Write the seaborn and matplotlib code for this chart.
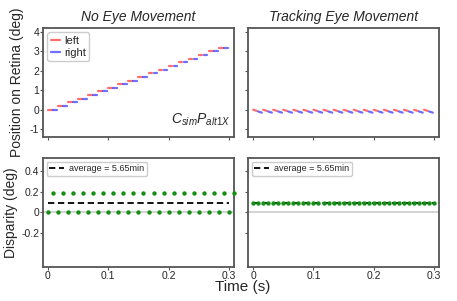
import numpy as np
import pandas as pd
import matplotlib
matplotlib.use("Agg")
import matplotlib.pyplot as plt
import seaborn as sns

# frame start times (s) for left / right eye flashes
left_t = [0.0, 0.0167, 0.0333, 0.05, 0.0667, 0.0833, 0.1, 0.1167, 0.1333,
          0.15, 0.1667, 0.1833, 0.2, 0.2167, 0.2333, 0.25, 0.2667, 0.2833]
right_t = [0.0083, 0.025, 0.0417, 0.0583, 0.075, 0.0917, 0.1083, 0.125, 0.1417,
           0.1583, 0.175, 0.1917, 0.2083, 0.225, 0.2417, 0.2583, 0.275, 0.2917]
flash_dur = 0.006

# retinal position, no eye movement (deg)
still_pos = [0.0, 0.19, 0.38, 0.56, 0.75, 0.94, 1.12, 1.31, 1.5,
             1.69, 1.88, 2.06, 2.25, 2.44, 2.62, 2.81, 3.0, 3.19]
# retinal position, tracking: start / end of each flash (deg)
track_left = (0.0, -0.06)
track_right = (-0.09, -0.15)

# disparity samples
disp_t0 = [0.0, 0.0167, 0.0333, 0.05, 0.0667, 0.0833, 0.1, 0.1167, 0.1333, 0.15,
           0.1667, 0.1833, 0.2, 0.2167, 0.2333, 0.25, 0.2667, 0.2833, 0.3]
disp_t1 = [0.0083, 0.025, 0.0417, 0.0583, 0.075, 0.0917, 0.1083, 0.125, 0.1417, 0.1583,
           0.175, 0.1917, 0.2083, 0.225, 0.2417, 0.2583, 0.275, 0.2917, 0.3083]
still_disp0 = 0.0
still_disp1 = 0.188
track_disp = 0.094
avg_disp = 0.094
avg_label = "average = 5.65min"

sns.set_style("ticks")
plt.rcParams["font.family"] = ["Liberation Sans", "DejaVu Sans"]
plt.rcParams["mathtext.fontset"] = "custom"
plt.rcParams["mathtext.it"] = "Liberation Sans:italic"
plt.rcParams["mathtext.rm"] = "Liberation Sans"
plt.rcParams["axes.unicode_minus"] = False


def segments(pos_left, pos_right):
    rows = []
    for i, t in enumerate(left_t):
        y0, y1 = pos_left[i]
        rows.append(dict(t=t, pos=y0, eye="left", seg=f"l{i}"))
        rows.append(dict(t=t + flash_dur, pos=y1, eye="left", seg=f"l{i}"))
    for i, t in enumerate(right_t):
        y0, y1 = pos_right[i]
        rows.append(dict(t=t, pos=y0, eye="right", seg=f"r{i}"))
        rows.append(dict(t=t + flash_dur, pos=y1, eye="right", seg=f"r{i}"))
    return pd.DataFrame(rows)


still_df = segments([(p, p) for p in still_pos], [(p, p) for p in still_pos])
track_df = segments([track_left] * len(left_t), [track_right] * len(right_t))

disp_still = pd.DataFrame({
    "t": disp_t0 + disp_t1,
    "d": [still_disp0] * len(disp_t0) + [still_disp1] * len(disp_t1),
})
track_times = sorted(disp_t0 + disp_t1[:-1])
disp_track = pd.DataFrame({"t": track_times, "d": [track_disp] * len(track_times)})

fig, axes = plt.subplots(2, 2, figsize=(4.57, 3.01), dpi=100)
fig.subplots_adjust(left=0.094, right=0.961, top=0.907, bottom=0.113,
                    wspace=0.074, hspace=0.193)

pal = {"left": "#ff3030", "right": "#3030ff"}
for ax, df in [(axes[0, 0], still_df), (axes[0, 1], track_df)]:
    sns.lineplot(data=df, x="t", y="pos", hue="eye", units="seg", estimator=None,
                 palette=pal, lw=1.6, alpha=0.7, ax=ax, legend=False)
    ax.set_ylim(-1.4, 4.2)
    ax.set_yticks([-1, 0, 1, 2, 3, 4])

axes[0, 0].plot([], [], color=pal["left"], alpha=0.7, lw=1.6, label="left")
axes[0, 0].plot([], [], color=pal["right"], alpha=0.7, lw=1.6, label="right")
axes[0, 0].legend(loc="upper left", fontsize=8, handlelength=0.8, handletextpad=0.4,
                  borderpad=0.3, labelspacing=0.2, borderaxespad=0.4,
                  edgecolor="#cccccc", framealpha=1)
axes[0, 0].text(0.98, 0.08, r"$C_{sim}P_{alt1X}$", transform=axes[0, 0].transAxes,
                ha="right", va="bottom", fontsize=10)
axes[0, 0].set_title("No Eye Movement", style="italic", fontsize=10, pad=5)
axes[0, 1].set_title("Tracking Eye Movement", style="italic", fontsize=10, pad=5)
axes[0, 0].set_ylabel("Position on Retina (deg)", fontsize=10, labelpad=4)
axes[1, 0].set_ylabel("Disparity (deg)", fontsize=10, labelpad=2)

for ax, df in [(axes[1, 0], disp_still), (axes[1, 1], disp_track)]:
    ax.axhline(0, color="#d0d0d0", lw=1.3, zorder=1)
    ax.plot([0, 0.3], [avg_disp, avg_disp], color="black", ls=(0, (3.5, 2)), lw=1.3,
            label=avg_label, zorder=2)
    sns.scatterplot(data=df, x="t", y="d", color="#138f13", s=10, linewidth=0,
                    ax=ax, zorder=3, clip_on=False)
    ax.set_ylim(-0.52, 0.52)
    ax.set_yticks([-0.2, 0, 0.2, 0.4])
    ax.set_yticklabels(["-0.2", "0", "0.2", "0.4"])
    ax.legend(loc="upper left", fontsize=6.5, handlelength=1.6, handletextpad=0.6,
              borderpad=0.3, borderaxespad=0.4, edgecolor="#cccccc", framealpha=1)

for ax in axes.flat:
    ax.set_xlim(-0.0083, 0.3083)
    ax.set_xticks([0, 0.1, 0.2, 0.3])
    ax.set_xticklabels(["0", "0.1", "0.2", "0.3"])
    ax.set_xlabel("")
    if ax is not axes[0, 0] and ax is not axes[1, 0]:
        ax.set_ylabel("")
        ax.tick_params(axis="y", labelleft=False)
    for s in ax.spines.values():
        s.set_visible(True)
        s.set_color("#555555")
        s.set_linewidth(1.3)
    ax.tick_params(length=2, width=0.8, color="#555555", labelsize=7.5, pad=0.8)

for ax in axes[0]:
    ax.tick_params(axis="x", labelbottom=False)

fig.text(0.531, 0.047, "Time (s)", ha="center", va="center", fontsize=11)

fig.savefig("out.png", dpi=100)
